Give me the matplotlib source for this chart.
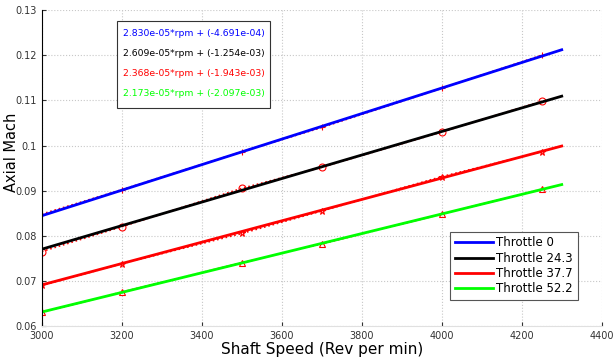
import numpy as np
import matplotlib.pyplot as plt
from matplotlib.patches import Rectangle

# Measured data (shaft speed in rpm)
rpm = np.array([3000, 3200, 3500, 3700, 4000, 4250])
mach_t0 = [0.0848, 0.0902, 0.0986, 0.1040, 0.1127, 0.1200]
mach_t24 = [0.0765, 0.0820, 0.0905, 0.0952, 0.1030, 0.1098]
mach_t37 = [0.0690, 0.0738, 0.0805, 0.0855, 0.0931, 0.0986]
mach_t52 = [0.0630, 0.0675, 0.0740, 0.0782, 0.0848, 0.0903]

# Linear fits: slope, intercept
slopes = [2.830e-05, 2.609e-05, 2.368e-05, 2.173e-05]
intercepts = [-4.691e-04, -1.254e-03, -1.943e-03, -2.097e-03]
labels = ["Throttle 0", "Throttle 24.3", "Throttle 37.7", "Throttle 52.2"]
colors = ["#0000ff", "#000000", "#ff0000", "#00ff00"]
markers = ["+", "o", "*", "^"]
data = [mach_t0, mach_t24, mach_t37, mach_t52]

fig = plt.figure(figsize=(6.14, 3.63), dpi=100)
ax = fig.add_axes([0.068, 0.102, 0.912, 0.870])

# data points (red markers, dotted)
for y, m in zip(data, markers):
    ax.plot(rpm, y, linestyle=":", color="r", marker=m, markersize=5,
            markerfacecolor="none", markeredgewidth=0.8, linewidth=1.2)

# fit lines
xfit = np.linspace(3000, 4300, 50)
for s, b, c, lab in zip(slopes, intercepts, colors, labels):
    ax.plot(xfit, s * xfit + b, color=c, linewidth=2, label=lab)

ax.set_xlim(3000, 4400)
ax.set_ylim(0.06, 0.13)
ax.set_xticks(np.arange(3000, 4401, 200))
ax.set_yticks(np.arange(0.06, 0.131, 0.01))
ax.set_yticklabels(["0.06", "0.07", "0.08", "0.09", "0.1", "0.11", "0.12", "0.13"])
ax.grid(True, color="#c8c8c8", linestyle=":", linewidth=0.8)
ax.tick_params(direction="in", labelsize=7, length=3, colors="#333333")
ax.spines["top"].set_visible(False)
ax.spines["right"].set_visible(False)
ax.spines["bottom"].set_color("#e0e0e0")
ax.spines["left"].set_color("black")

ax.set_xlabel("Shaft Speed (Rev per min)", fontsize=11, labelpad=1)
ax.set_ylabel("Axial Mach", fontsize=10.5)
ax.yaxis.set_label_coords(-0.04, 0.55)

# equation box
ax.add_patch(Rectangle((0.134, 0.69), 0.273, 0.275, transform=ax.transAxes,
                       facecolor="white", edgecolor="#333333", linewidth=0.8,
                       zorder=5))
for i, (s, b, c) in enumerate(zip(slopes, intercepts, colors)):
    ax.text(0.145, 0.927 - i * 0.064, f"{s:.3e}*rpm + ({b:.3e})",
            transform=ax.transAxes, fontsize=6.7, color=c, va="center",
            ha="left", zorder=6)

leg = ax.legend(loc="lower right", bbox_to_anchor=(0.957, 0.082), fontsize=8.5,
                fancybox=False, edgecolor="#555555", framealpha=1,
                handlelength=3.2, borderpad=0.4, labelspacing=0.2,
                handletextpad=0.3, borderaxespad=0)
leg.get_frame().set_linewidth(0.8)

fig.savefig("out.png", dpi=100)
